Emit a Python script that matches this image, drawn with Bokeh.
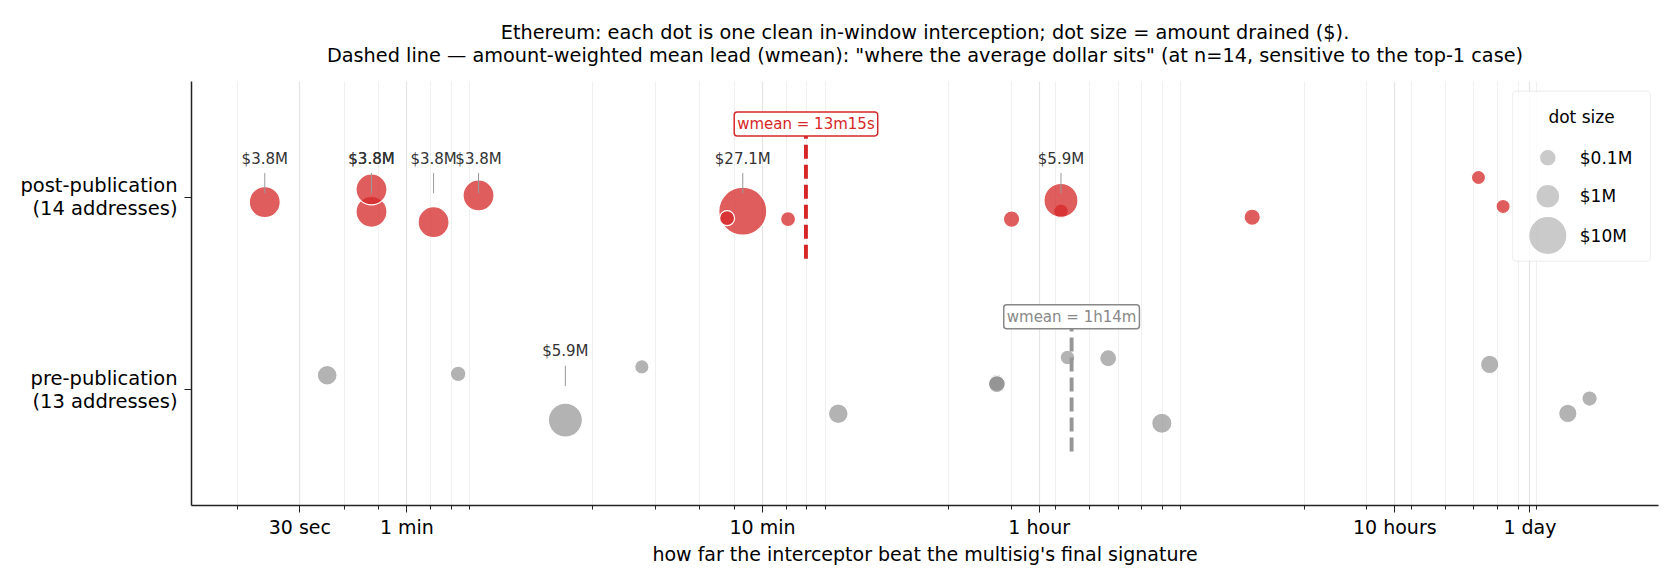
import numpy as np
from bokeh.plotting import figure
from bokeh.models import ColumnDataSource, Range1d, FixedTicker, Label, BoxAnnotation
from bokeh.core.properties import value
from bokeh.embed import file_html
from bokeh.resources import INLINE

# lead over the final signature (seconds), amount drained ($M), vertical jitter (row units)
post_lead = [23.9, 47.7, 47.7, 71.3, 95.4, 528, 477, 708, 3010, 4145, 4145, 14300, 61900, 72600]
post_amount = [3.8, 3.8, 3.8, 3.8, 3.8, 27.1, 0.04, 0.04, 0.09, 0.03, 5.9, 0.085, 0.02, 0.02]
post_jitter = [-0.026, -0.076, 0.040, -0.130, 0.009, -0.073, -0.109, -0.114, -0.114, -0.073, -0.017, -0.104, 0.102, -0.048]

pre_lead = [35.8, 83.6, 167.4, 274.7, 980, 2737, 2737, 4324, 5628, 7965, 66560, 110400, 127100]
pre_amount = [0.35, 0.056, 5.9, 0.023, 0.34, 0.12, 0.12, 0.03, 0.12, 0.40, 0.21, 0.21, 0.05]
pre_jitter = [0.076, 0.083, -0.157, 0.119, -0.124, 0.036, 0.030, 0.168, 0.164, -0.173, 0.132, -0.122, -0.045]

# amount-weighted mean lead (seconds)
wmean_post = 795
wmean_pre = 4440

tick_secs = [30, 60, 600, 3600, 36000, 86400]
tick_labels = ["30 sec", "1 min", "10 min", "1 hour", "10 hours", "1 day"]
legend_amounts = [0.1, 1, 10]

title_lines = [
    "Ethereum: each dot is one clean in-window interception; dot size = amount drained ($).",
    'Dashed line \u2014 amount-weighted mean lead (wmean): "where the average dollar sits" '
    "(at n=14, sensitive to the top-1 case)",
]

FONT = "DejaVu Sans"
RED = "#d62728"
GREY = "#808080"

# frame geometry (px) so the hand-built legend can be placed
W, H = 1664, 572
BL, BT = 191, 81
FW, FH = 1467, 424
BR, BB = W - BL - FW, H - BT - FH
X0, X1 = 14.87, 198600
Y0, Y1 = -0.6, 1.6


def px_x(px):
    lo, hi = np.log10(X0), np.log10(X1)
    return 10 ** (lo + px / FW * (hi - lo))


def px_y(py):
    return Y1 - py / FH * (Y1 - Y0)


def dot_size(amount):
    return np.sqrt(117 + 402 * np.sqrt(np.asarray(amount, dtype=float))) + 1


def fmt_lead(s):
    s = int(round(s))
    h, rem = divmod(s, 3600)
    m, sec = divmod(rem, 60)
    return f"{h}h{m}m" if h else f"{m}m{sec}s"


p = figure(width=W, height=H, x_axis_type="log",
           x_range=Range1d(X0, X1), y_range=Range1d(Y0, Y1),
           output_backend="svg", toolbar_location=None,
           min_border_left=BL, min_border_right=BR, min_border_top=BT, min_border_bottom=BB)
p.outline_line_color = None
p.background_fill_color = "white"
p.border_fill_color = "white"

# two-line title
p.title.text = "\n".join(title_lines)
p.title.align = "center"
p.title.text_align = "center"
p.title.text_font = FONT
p.title.text_font_size = "19.3px"
p.title.text_font_style = "normal"
p.title.text_color = "black"
p.title.text_line_height = 1.0
p.title.standoff = 30

# x axis
minor = [m * 10 ** k for k in range(1, 5) for m in range(2, 10)]
ticker = FixedTicker(ticks=tick_secs, minor_ticks=minor)
p.xaxis.ticker = ticker
p.xgrid.ticker = ticker
p.xaxis.major_label_overrides = {t: l for t, l in zip(tick_secs, tick_labels)}
p.xaxis.axis_label = "how far the interceptor beat the multisig's final signature"
p.xaxis.axis_label_text_font = FONT
p.xaxis.axis_label_text_font_size = "19px"
p.xaxis.axis_label_text_font_style = "normal"
p.xaxis.axis_label_text_color = "black"
p.xaxis.axis_label_standoff = 2
p.xaxis.major_label_text_font = FONT
p.xaxis.major_label_text_font_size = "19px"
p.xaxis.major_label_text_color = "black"
p.xaxis.major_label_standoff = 3
p.xaxis.major_tick_out = 7
p.xaxis.major_tick_in = 0
p.xaxis.minor_tick_out = 4
p.xaxis.minor_tick_in = 0
p.xaxis.axis_line_width = 1.5
p.xaxis.axis_line_color = "#222222"
p.xaxis.major_tick_line_color = "#222222"
p.xaxis.minor_tick_line_color = "#222222"
p.xgrid.grid_line_color = "#e4e4e4"
p.xgrid.grid_line_width = 1.2
p.xgrid.minor_grid_line_color = "#f0f0f0"
p.xgrid.minor_grid_line_width = 1
p.ygrid.grid_line_color = None

# y axis
p.yaxis.ticker = FixedTicker(ticks=[0, 1])
p.yaxis.major_label_overrides = {
    0: f"pre-publication\n({len(pre_lead)} addresses)",
    1: f"post-publication\n({len(post_lead)} addresses)",
}
p.yaxis.major_label_text_font = FONT
p.yaxis.major_label_text_font_size = "19.5px"
p.yaxis.major_label_text_color = "black"
p.yaxis.major_label_text_line_height = 1.0
p.yaxis.major_label_standoff = 7
p.yaxis.major_tick_out = 7
p.yaxis.major_tick_in = 0
p.yaxis.minor_tick_line_color = None
p.yaxis.axis_line_width = 1.5
p.yaxis.axis_line_color = "#222222"
p.yaxis.major_tick_line_color = "#222222"

# size legend box, drawn under the dots in the top-right corner of the frame
p.add_layout(BoxAnnotation(left=px_x(1321), right=px_x(1459), top=px_y(9.7), bottom=px_y(179.7),
                           fill_color="white", fill_alpha=0.8, line_color="#cccccc",
                           line_width=1.2, border_radius=4, level="underlay"))

# dots
rows = [(1, post_lead, post_amount, post_jitter, RED, 0.75),
        (0, pre_lead, pre_amount, pre_jitter, GREY, 0.6)]
for row, lead, amount, jit, color, alpha in rows:
    src = ColumnDataSource(dict(x=lead, y=[row + j for j in jit], s=dot_size(amount)))
    p.scatter("x", "y", size="s", source=src, fill_color=color, fill_alpha=alpha,
              line_color="white", line_width=1.2)

    # labels for the big ones
    big = [(x, a) for x, a in zip(lead, amount) if a >= 1]
    lab = ColumnDataSource(dict(x=[b[0] for b in big], t=[f"${b[1]:.1f}M" for b in big]))
    p.segment(x0="x", y0=row + 0.02, x1="x", y1=row + 0.125, source=lab,
              line_color="#999999", line_width=1)
    p.text("x", row + 0.2, text="t", source=lab, text_align="center", text_baseline="middle",
           text_font=value(FONT), text_font_size="15px", text_color="#333333")

# weighted-mean markers
for row, wm, color, tcolor in [(1, wmean_post, RED, RED), (0, wmean_pre, "#969696", "#888888")]:
    p.segment(x0=[wm], y0=[row - 0.32], x1=[wm], y1=[row + 0.32],
              line_color=color, line_width=3.9, line_dash="14 6")
    p.add_layout(Label(x=wm, y=row + 0.38, text=f"wmean = {fmt_lead(wm)}",
                       text_align="center", text_baseline="middle",
                       text_font=FONT, text_font_size="15px", text_color=tcolor,
                       background_fill_color="white", border_line_color=tcolor,
                       border_line_width=1.5, padding=3, border_radius=3))

# legend contents
p.text([px_x(1390)], [px_y(35.7)], text=["dot size"], text_align="center", text_baseline="middle",
       text_font=value(FONT), text_font_size="17px", text_color="black")
leg_y = [px_y(76.3), px_y(114.7), px_y(154)]
p.scatter([px_x(1356.3)] * 3, leg_y, size=dot_size(legend_amounts), fill_color=GREY,
          fill_alpha=0.42, line_color="white", line_width=1.2)
p.text([px_x(1388.3)] * 3, leg_y, text=[f"${a:g}M" for a in legend_amounts],
       text_align="left", text_baseline="middle",
       text_font=value(FONT), text_font_size="17px", text_color="black")

open("out.html", "w").write(file_html(p, INLINE))
